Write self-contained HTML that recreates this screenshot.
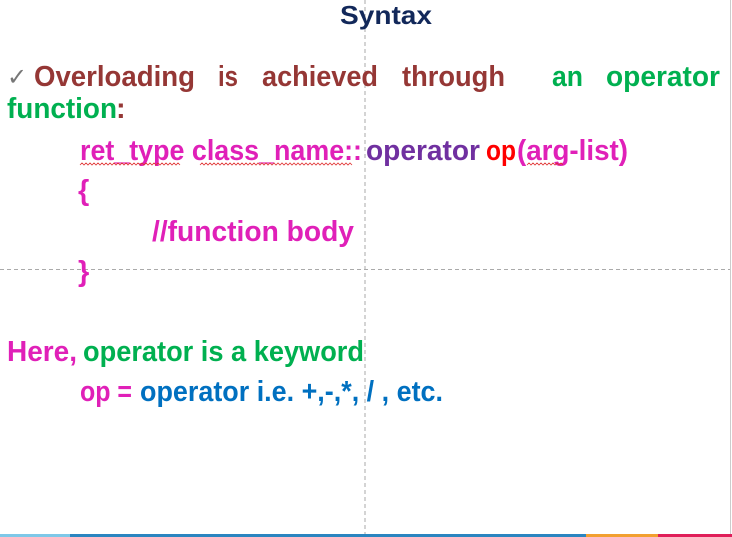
<!DOCTYPE html>
<html><head><meta charset="utf-8"><style>
html,body{margin:0;padding:0;background:#fff;width:732px;height:537px;overflow:hidden}
svg{display:block}
text{font-family:"Liberation Sans",sans-serif;font-weight:bold}
</style></head><body>
<svg width="732" height="537" viewBox="0 0 732 537">
<rect width="732" height="537" fill="#fff"/>
<line x1="365" y1="0" x2="365" y2="537" stroke="#aaa" stroke-dasharray="4,3" stroke-width="1"/>
<line x1="0" y1="269.5" x2="730" y2="269.5" stroke="#aaa" stroke-dasharray="4,3" stroke-width="1"/>
<line x1="730.5" y1="0" x2="730.5" y2="537" stroke="#ccc"/>
<text x="340" y="24" font-size="26" fill="#12285a" textLength="92" lengthAdjust="spacingAndGlyphs">Syntax</text>
<text x="7" y="85" font-size="24" fill="#777" style="font-weight:normal">✓</text>
<g font-size="29">
<text x="34" y="86" fill="#953735" textLength="161" lengthAdjust="spacingAndGlyphs">Overloading</text>
<text x="218" y="86" fill="#953735" textLength="20" lengthAdjust="spacingAndGlyphs">is</text>
<text x="262" y="86" fill="#953735" textLength="116" lengthAdjust="spacingAndGlyphs">achieved</text>
<text x="402" y="86" fill="#953735" textLength="103" lengthAdjust="spacingAndGlyphs">through</text>
<text x="552" y="86" fill="#00b050" textLength="31" lengthAdjust="spacingAndGlyphs">an</text>
<text x="606" y="86" fill="#00b050" textLength="114" lengthAdjust="spacingAndGlyphs">operator</text>
<text x="7" y="118" fill="#00b050" textLength="110" lengthAdjust="spacingAndGlyphs">function</text>
<text x="116" y="118" fill="#953735">:</text>
<text x="80" y="160" fill="#e020b8" textLength="282" lengthAdjust="spacingAndGlyphs">ret_type  class_name::</text>
<text x="366" y="160" fill="#7030a0" textLength="114" lengthAdjust="spacingAndGlyphs">operator</text>
<text x="486" y="160" fill="#ff0000" textLength="30" lengthAdjust="spacingAndGlyphs">op</text>
<text x="517" y="160" fill="#e020b8" textLength="111" lengthAdjust="spacingAndGlyphs">(arg-list)</text>
<text x="78" y="200" fill="#e020b8">{</text>
<text x="152" y="241" fill="#e020b8" textLength="202" lengthAdjust="spacingAndGlyphs">//function body</text>
<text x="78" y="281" fill="#e020b8">}</text>
<text x="7" y="361" fill="#e020b8" textLength="70" lengthAdjust="spacingAndGlyphs">Here,</text>
<text x="83" y="361" fill="#00b050" textLength="281" lengthAdjust="spacingAndGlyphs">operator is a keyword</text>
<text x="80" y="401" fill="#e020b8" textLength="52" lengthAdjust="spacingAndGlyphs">op =</text>
<text x="140" y="401" fill="#0070c0" textLength="303" lengthAdjust="spacingAndGlyphs">operator i.e. +,-,*, / , etc.</text>
</g>
<g fill="none" stroke="#e03030" stroke-width="0.8">
<path d="M80 165 l2 -2 l2 2 l2 -2 l2 2 l2 -2 l2 2 l2 -2 l2 2 l2 -2 l2 2 l2 -2 l2 2 l2 -2 l2 2 l2 -2 l2 2 l2 -2 l2 2 l2 -2 l2 2 l2 -2 l2 2 l2 -2 l2 2 l2 -2 l2 2 l2 -2 l2 2 l2 -2 l2 2 l2 -2 l2 2 l2 -2 l2 2 l2 -2 l2 2 l2 -2 l2 2 l2 -2 l2 2 l2 -2 l2 2 l2 -2 l2 2 l2 -2 l2 2 l2 -2 l2 2 l2 -2 l2 2"/>
<path d="M200 165 l2 -2 l2 2 l2 -2 l2 2 l2 -2 l2 2 l2 -2 l2 2 l2 -2 l2 2 l2 -2 l2 2 l2 -2 l2 2 l2 -2 l2 2 l2 -2 l2 2 l2 -2 l2 2 l2 -2 l2 2 l2 -2 l2 2 l2 -2 l2 2 l2 -2 l2 2 l2 -2 l2 2 l2 -2 l2 2 l2 -2 l2 2 l2 -2 l2 2 l2 -2 l2 2 l2 -2 l2 2 l2 -2 l2 2 l2 -2 l2 2 l2 -2 l2 2 l2 -2 l2 2 l2 -2 l2 2 l2 -2 l2 2 l2 -2 l2 2 l2 -2 l2 2 l2 -2 l2 2 l2 -2 l2 2 l2 -2 l2 2 l2 -2 l2 2 l2 -2 l2 2 l2 -2 l2 2 l2 -2 l2 2 l2 -2 l2 2 l2 -2 l2 2 l2 -2 l2 2"/>
<path d="M527 165 l2 -2 l2 2 l2 -2 l2 2 l2 -2 l2 2 l2 -2 l2 2 l2 -2 l2 2 l2 -2 l2 2 l2 -2 l2 2 l2 -2 l2 2 l2 -2 l2 2"/>
</g>
<rect x="0" y="534" width="70" height="3" fill="#7ec8e8"/>
<rect x="70" y="534" width="516" height="3" fill="#2a85c0"/>
<rect x="586" y="534" width="72" height="3" fill="#f2a030"/>
<rect x="658" y="534" width="74" height="3" fill="#e01e5a"/>
</svg>
</body></html>
